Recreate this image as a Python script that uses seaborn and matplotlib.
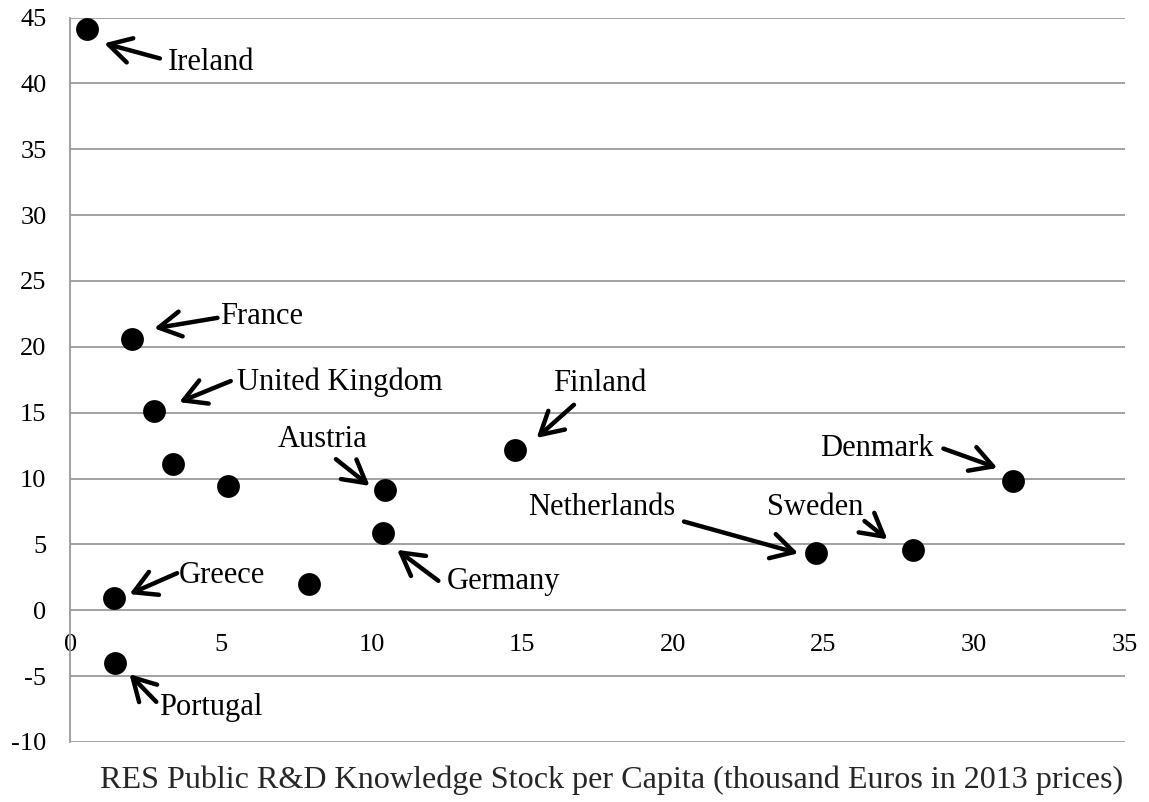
import matplotlib
matplotlib.use("Agg")
import matplotlib.pyplot as plt
import seaborn as sns
import pandas as pd

# data
countries = ["Ireland", "France", "United Kingdom", "", "", "Austria", "Germany",
             "", "Greece", "Portugal", "Finland", "Netherlands", "Sweden", "Denmark"]
knowledge_stock = [0.55, 2.07, 2.8, 3.43, 5.23, 10.44, 10.37,
                   7.93, 1.45, 1.5, 14.75, 24.74, 27.97, 31.28]
y_values = [44.1, 20.6, 15.1, 11.1, 9.45, 9.15, 5.85,
            1.97, 0.89, -4.03, 12.15, 4.37, 4.6, 9.8]

x_ticks = list(range(0, 36, 5))
y_ticks = list(range(-10, 46, 5))
x_label = "RES Public R&D Knowledge Stock per Capita (thousand Euros in 2013 prices)"

# label layout: text (x, y), arrow tail (x, y), arrow tip (x, y)
callouts = {
    "Ireland":        ((3.26, 41.6), (2.98, 41.9), (1.13, 43.05)),
    "France":         ((4.99, 22.3), (4.89, 22.2), (2.79, 21.4)),
    "United Kingdom": ((5.55, 17.3), (5.33, 17.4), (3.62, 15.8)),
    "Austria":        ((6.89, 12.95), (8.82, 11.47), (9.94, 9.44)),
    "Germany":        ((12.5, 2.2), (12.22, 2.23), (10.85, 4.58)),
    "Greece":         ((3.59, 2.6), (3.55, 2.81), (1.97, 1.22)),
    "Portugal":       ((2.96, -7.4), (2.86, -6.96), (1.97, -4.86)),
    "Finland":        ((16.03, 17.25), (16.72, 15.6), (15.48, 13.08)),
    "Netherlands":    ((15.2, 7.78), (20.37, 6.73), (24.16, 4.32)),
    "Sweden":         ((23.13, 7.78), (26.36, 6.77), (27.12, 5.38)),
    "Denmark":        ((24.88, 12.27), (28.98, 12.27), (30.77, 10.8)),
}

df = pd.DataFrame({"country": countries, "x": knowledge_stock, "y": y_values})

sns.set_style("white")
plt.rcParams["font.family"] = ["Liberation Serif", "DejaVu Serif"]
plt.rcParams["axes.unicode_minus"] = False

fig, ax = plt.subplots(figsize=(11.49, 8.02), dpi=100)
fig.subplots_adjust(left=0.061, right=0.979, top=0.978, bottom=0.075)

grid_col = "#9a9a9a"
for yt in y_ticks:
    if yt != 0:
        ax.axhline(yt, color=grid_col, lw=1.3, zorder=0)

sns.scatterplot(data=df, x="x", y="y", s=270, color="black", edgecolor="black",
                linewidth=0, ax=ax, zorder=3, legend=False)

for name, (txt, tail, tip) in callouts.items():
    ax.text(txt[0], txt[1], name, ha="left", va="center", fontsize=22, color="black")
    ax.annotate("", xy=tip, xytext=tail,
                arrowprops=dict(arrowstyle="->,head_length=0.8,head_width=0.45",
                                mutation_scale=20, lw=3.2, color="black",
                                shrinkA=0, shrinkB=0))

ax.set_xlim(0, 35)
ax.set_ylim(-10, 45)
ax.set_xticks(x_ticks)
ax.set_yticks(y_ticks)
ax.spines["top"].set_visible(False)
ax.spines["right"].set_visible(False)
ax.spines["bottom"].set_position(("data", 0))
for sp in ("left", "bottom"):
    ax.spines[sp].set_color(grid_col)
    ax.spines[sp].set_linewidth(1.3)

ax.tick_params(axis="both", which="major", direction="out", length=8, width=1.3,
               color=grid_col, labelsize=19, labelcolor="black")
ax.tick_params(axis="x", pad=9)
ax.tick_params(axis="y", pad=9)

ax.set_xlabel("")
ax.set_ylabel("")
fig.text(0.532, 0.027, x_label, ha="center", va="center", fontsize=23.1)

fig.savefig("out.png", dpi=100)
